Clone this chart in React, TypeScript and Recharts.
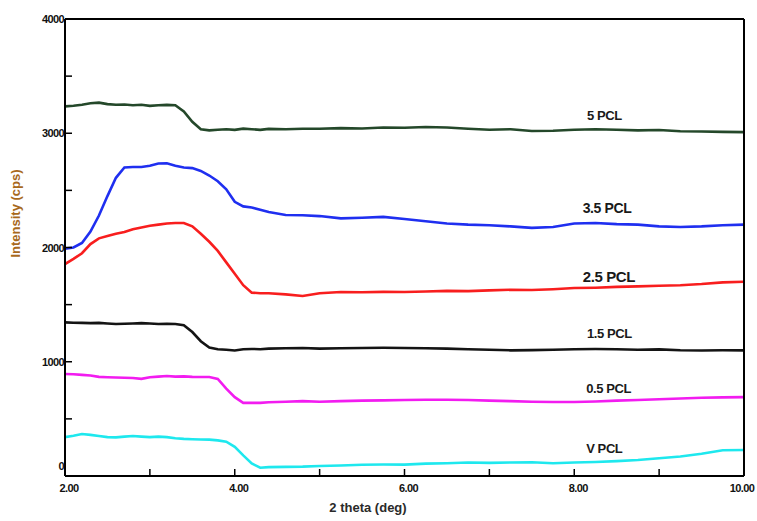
import React from 'react';
import { LineChart, Line, XAxis, YAxis, ReferenceDot } from 'recharts';

const theta = [2.0, 2.1, 2.2, 2.3, 2.4, 2.5, 2.6, 2.7, 2.8, 2.9, 3.0, 3.1, 3.2, 3.3, 3.4, 3.5, 3.6, 3.7, 3.8, 3.9, 4.0, 4.1, 4.2, 4.3, 4.4, 4.6, 4.8, 5.0, 5.25, 5.5, 5.75, 6.0, 6.25, 6.5, 6.75, 7.0, 7.25, 7.5, 7.75, 8.0, 8.25, 8.5, 8.75, 9.0, 9.25, 9.5, 9.75, 10.0];

const pcl5 = [3235, 3240, 3250, 3262, 3268, 3255, 3250, 3252, 3245, 3250, 3240, 3245, 3248, 3245, 3190, 3100, 3035, 3025, 3030, 3035, 3030, 3040, 3035, 3030, 3038, 3035, 3040, 3040, 3045, 3042, 3050, 3048, 3055, 3050, 3040, 3030, 3035, 3020, 3022, 3030, 3035, 3030, 3025, 3028, 3018, 3015, 3012, 3010];
const pcl35 = [1990, 2000, 2040, 2140, 2280, 2450, 2610, 2700, 2705, 2705, 2715, 2735, 2738, 2715, 2700, 2695, 2670, 2630, 2580, 2510, 2400, 2360, 2350, 2330, 2310, 2285, 2282, 2275, 2255, 2260, 2268, 2250, 2230, 2210, 2200, 2195, 2185, 2172, 2180, 2210, 2215, 2205, 2200, 2185, 2180, 2185, 2195, 2200];
const pcl25 = [1855, 1900, 1950, 2030, 2080, 2100, 2120, 2135, 2160, 2175, 2190, 2200, 2210, 2215, 2215, 2185, 2120, 2050, 1970, 1870, 1770, 1670, 1605, 1600, 1600, 1590, 1575, 1600, 1610, 1608, 1612, 1610, 1615, 1620, 1618, 1625, 1630, 1628, 1635, 1645, 1648, 1655, 1660, 1665, 1670, 1680, 1695, 1700];
const pcl15 = [1345, 1342, 1340, 1338, 1340, 1335, 1330, 1332, 1335, 1338, 1335, 1330, 1332, 1330, 1320, 1260, 1180, 1125, 1110, 1105, 1098, 1110, 1112, 1110, 1115, 1118, 1120, 1115, 1118, 1120, 1122, 1120, 1118, 1115, 1110, 1105, 1100, 1102, 1105, 1110, 1112, 1110, 1105, 1108, 1100, 1098, 1100, 1100];
const pcl05 = [893, 890, 885, 880, 868, 865, 862, 860, 858, 850, 865, 870, 875, 870, 872, 868, 866, 866, 850, 765, 690, 640, 640, 640, 645, 650, 655, 650, 655, 660, 662, 665, 668, 668, 665, 660, 655, 650, 648, 648, 652, 660, 665, 672, 678, 685, 688, 690];
const pclV = [340, 352, 368, 360, 350, 340, 338, 345, 350, 345, 340, 345, 340, 330, 325, 322, 320, 318, 312, 300, 255, 180, 110, 72, 78, 80, 82, 88, 92, 98, 100, 100, 108, 112, 118, 115, 118, 120, 112, 118, 122, 130, 140, 155, 170, 195, 225, 228];

const xTicks = [2, 3, 4, 5, 6, 7, 8, 9, 10];
const yTicks = [0, 500, 1000, 1500, 2000, 2500, 3000, 3500, 4000];

const labelNames = ['5 PCL', '3.5 PCL', '2.5 PCL', '1.5 PCL', '0.5 PCL', 'V PCL'];
const labelX = [8.15, 8.1, 8.1, 8.15, 8.14, 8.14];
const labelY = [3150, 2335, 1735, 1240, 755, 228];
const labelSizes = [13, 14, 15, 13, 13, 13];

const data = theta.map((t, i) => ({
  theta: t,
  pcl5: pcl5[i],
  pcl35: pcl35[i],
  pcl25: pcl25[i],
  pcl15: pcl15[i],
  pcl05: pcl05[i],
  pclV: pclV[i],
}));

const tickFont = "'Liberation Sans Narrow', 'Arial Narrow', 'Liberation Sans', sans-serif";

// bottom tick text: y given = axis y - 7 (inward tick end)
const BottomTick = (props: any) => {
  const { x, y, payload } = props;
  const major = payload.value % 2 === 0;
  if (!major) return <g />;
  const isLast = payload.value === 10;
  return (
    <text x={isLast ? x - 2 : x + 4} y={y + 23} textAnchor="middle" fontFamily={tickFont} fontWeight="bold" fontSize={11} fill="#111" letterSpacing={-0.6}>
      {Number(payload.value).toFixed(2)}
    </text>
  );
};

// left tick text: x given = axis x + 7
const LeftTick = (props: any) => {
  const { x, y, payload } = props;
  const major = payload.value % 1000 === 0;
  if (!major) return <g />;
  return (
    <text x={x - 8} y={payload.value === 0 ? y - 6 : y + 4} textAnchor="end" fontFamily={tickFont} fontWeight="bold" fontSize={11} fill="#111" letterSpacing={-0.6}>
      {payload.value}
    </text>
  );
};

const series = [
  { key: 'pcl5', color: '#24482a' },
  { key: 'pcl35', color: '#1f2ff0' },
  { key: 'pcl25', color: '#f81e1e' },
  { key: 'pcl15', color: '#141414' },
  { key: 'pcl05', color: '#f21cf0' },
  { key: 'pclV', color: '#1ee8ee' },
];

const axisStroke = { stroke: '#000', strokeWidth: 2 };
const tickStroke = { stroke: '#000', strokeWidth: 1.5 };

export default function App() {
  return (
    <div style={{ position: 'absolute', left: 0, top: 0, background: '#fff' }}>
      <LineChart width={757} height={521} data={data} margin={{ top: 18, right: 12, bottom: 0, left: 0 }}>
        <XAxis
          xAxisId="b"
          dataKey="theta"
          type="number"
          domain={[2, 10]}
          ticks={xTicks}
          allowDataOverflow
          height={45}
          tickSize={-7}
          tickMargin={0}
          tickLine={tickStroke}
          axisLine={axisStroke}
          tick={<BottomTick />}
          interval={0}
          label={{
            content: (p: any) => {
              const vb = p.viewBox || { x: 65, y: 476 };
              return (
                <text x={vb.x + 303} y={vb.y + 36} textAnchor="middle" fontFamily={tickFont} fontWeight="bold" fontSize={13} fill="#2a2a2a">
                  2 theta (deg)
                </text>
              );
            },
          }}
        />
        <XAxis
          xAxisId="t"
          orientation="top"
          dataKey="theta"
          type="number"
          domain={[2, 10]}
          ticks={xTicks}
          allowDataOverflow
          height={1}
          tickSize={-6}
          tickMargin={0}
          tickLine={tickStroke}
          axisLine={axisStroke}
          tick={false}
          interval={0}
        />
        <YAxis
          yAxisId="l"
          type="number"
          domain={[0, 4000]}
          ticks={yTicks}
          allowDataOverflow
          width={65}
          tickSize={-7}
          tickMargin={0}
          tickLine={tickStroke}
          axisLine={axisStroke}
          tick={<LeftTick />}
          interval={0}
          label={{
            content: (p: any) => {
              const vb = p.viewBox || { x: 0, y: 19, height: 457 };
              const cx = vb.x + 17;
              const cy = vb.y + vb.height / 2 - 34;
              return (
                <text x={cx} y={cy} transform={`rotate(-90, ${cx}, ${cy})`} textAnchor="middle" dominantBaseline="middle" fontFamily={tickFont} fontWeight="bold" fontSize={13} fill="#a8691c">
                  Intensity (cps)
                </text>
              );
            },
          }}
        />
        <YAxis
          yAxisId="r"
          orientation="right"
          type="number"
          domain={[0, 4000]}
          ticks={yTicks}
          allowDataOverflow
          width={1}
          tickSize={-6}
          tickMargin={0}
          tickLine={tickStroke}
          axisLine={axisStroke}
          tick={false}
          interval={0}
        />
        {series.map((s) => (
          <Line
            key={s.key}
            xAxisId="b"
            yAxisId="l"
            type="linear"
            dataKey={s.key}
            stroke={s.color}
            strokeWidth={2.6}
            dot={false}
            activeDot={false}
            isAnimationActive={false}
          />
        ))}
        {labelNames.map((name, i) => (
          <ReferenceDot
            key={name}
            xAxisId="b"
            yAxisId="l"
            x={labelX[i]}
            y={labelY[i]}
            ifOverflow="visible"
            shape={(p: any) => (
              <text x={p.cx} y={p.cy} dominantBaseline="middle" textAnchor="start" fontFamily={tickFont} fontWeight="bold" fontSize={labelSizes[i]} fill="#1a1a1a" letterSpacing={-0.4}>
                {name}
              </text>
            )}
          />
        ))}
      </LineChart>
    </div>
  );
}
